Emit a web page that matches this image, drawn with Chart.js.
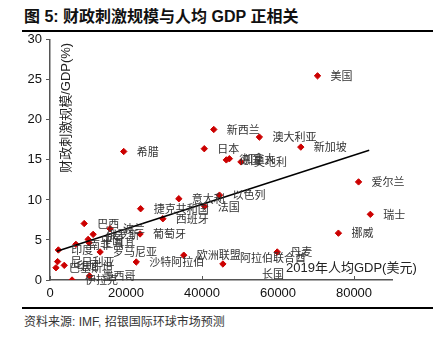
<!DOCTYPE html>
<html>
<head>
<meta charset="utf-8">
<script src="https://cdn.jsdelivr.net/npm/chart.js@4.4.0/dist/chart.umd.min.js"></script>
<style>
  body { margin: 0; background: #fff; width: 433px; height: 344px; position: relative; overflow: hidden;
         font-family: "Liberation Sans", "Noto Sans CJK SC", sans-serif; }
  .title { position: absolute; left: 24px; top: 3px; font-size: 16px; font-weight: bold; color: #111; }
  .rule { position: absolute; left: 22px; right: 0; height: 2px; background: #000; }
  .source { position: absolute; left: 24px; top: 312px; font-size: 12px; color: #333; }
  #wrap { position: absolute; left: 0; top: 28px; width: 433px; height: 278px; }
</style>
</head>
<body>
<div class="title">图 5: 财政刺激规模与人均 GDP 正相关</div>
<div class="rule" style="top:30px"></div>
<div id="wrap"><canvas id="myChart"></canvas></div>
<div class="rule" style="top:307px"></div>
<div class="source">资料来源: IMF, 招银国际环球市场预测</div>
<script>
// 2019 GDP per capita (USD) vs fiscal stimulus (% of GDP)
const countries = ["美国", "新西兰", "澳大利亚", "日本", "新加坡", "希腊", "德国", "加拿大", "奥地利",
    "爱尔兰", "瑞士", "挪威", "丹麦", "阿拉伯联合酋\n长国", "欧洲联盟", "沙特阿拉伯", "意大利", "以色列",
    "法国", "西班牙", "捷克共和国", "巴西", "波兰", "葡萄牙", "俄罗斯", "中国", "土耳其", "南非",
    "罗马尼亚", "印度", "尼日利亚", "巴基斯坦", "印尼", "伊拉克", "墨西哥"];
const gdpPerCapita = [70400, 43100, 55100, 40600, 66000, 19400, 46400, 47200, 50250,
    81200, 84300, 75900, 59800, 45500, 35200, 22700, 33900, 44600,
    40700, 29700, 23850, 9000, 15800, 23700, 11350, 10040, 10300, 6820,
    13190, 2200, 2000, 1570, 3750, 5800, 10400];
const stimulus = [25.5, 18.8, 17.85, 16.4, 16.6, 16.05, 15.0, 15.15, 14.75,
    12.25, 8.2, 5.85, 3.5, 2.0, 3.1, 2.25, 10.15, 10.6,
    9.2, 7.65, 8.9, 7.05, 6.4, 5.75, 5.7, 5.07, 4.65, 4.45,
    3.5, 3.75, 2.3, 1.53, 1.83, 0.0, 0.5];

// linear fit line
const trendX = [1800, 84000];
const trendY = [3.6, 16.2];

const xTicks = [0, 20000, 40000, 60000, 80000];
const yTicks = [0, 5, 10, 15, 20, 25, 30];

const points = gdpPerCapita.map((g, i) => ({ x: g, y: stimulus[i] }));
const trend = trendX.map((t, i) => ({ x: t, y: trendY[i] }));

const cjk = '"Noto Sans CJK SC", sans-serif';

// labels beside each point, axis titles and inward x ticks
const annotate = {
    id: 'annotate',
    afterDatasetsDraw(chart) {
        const ctx = chart.ctx;
        const meta = chart.getDatasetMeta(1);
        ctx.save();
        ctx.fillStyle = '#333';
        ctx.font = '11px ' + cjk;
        ctx.textBaseline = 'middle';
        meta.data.forEach((el, i) => {
            const lines = countries[i].split('\n');
            if (lines.length === 1) {
                ctx.textAlign = 'left';
                ctx.fillText(lines[0], el.x + 13, el.y);
            } else {
                ctx.textAlign = 'center';
                const w = ctx.measureText(lines[0]).width;
                lines.forEach((ln, k) => ctx.fillText(ln, el.x + 17 + w / 2, el.y - 6 + k * 16));
            }
        });

        const xs = chart.scales.x, ys = chart.scales.y;
        ctx.strokeStyle = '#555';
        ctx.lineWidth = 1;
        xTicks.forEach(v => {
            const px = Math.round(xs.getPixelForValue(v)) + 0.5;
            ctx.beginPath();
            ctx.moveTo(px, ys.bottom);
            ctx.lineTo(px, ys.bottom - 4);
            ctx.stroke();
        });

        ctx.fillStyle = '#222';
        ctx.font = '13px "Liberation Sans", ' + cjk;
        ctx.textAlign = 'left';
        ctx.fillText('2019年人均GDP(美元)', 286, ys.bottom - 12);

        ctx.font = '13px "Liberation Sans", ' + cjk;
        ctx.translate(xs.left + 16, ys.top + 68);
        ctx.rotate(-Math.PI / 2);
        ctx.textAlign = 'center';
        ctx.fillText('财政刺激规模/GDP(%)', 0, 0);
        ctx.restore();
    }
};

new Chart(document.getElementById('myChart'), {
    type: 'scatter',
    data: {
        datasets: [{
            type: 'line',
            data: trend,
            borderColor: '#000',
            borderWidth: 1.5,
            pointRadius: 0,
            fill: false
        }, {
            data: points,
            backgroundColor: '#cc0000',
            borderColor: '#cc0000',
            pointStyle: 'rectRot',
            pointRadius: 3.2
        }]
    },
    options: {
        responsive: true,
        maintainAspectRatio: false,
        animation: false,
        layout: { padding: { top: 2, right: 41, left: 0, bottom: 0 } },
        plugins: { legend: { display: false }, tooltip: { enabled: false } },
        scales: {
            x: {
                type: 'linear',
                min: 0,
                max: 90000,
                afterBuildTicks: s => { s.ticks = xTicks.map(v => ({ value: v })); },
                afterFit: s => { s.height = 26; },
                grid: { display: false, drawTicks: false },
                border: { display: true, color: '#555', width: 1.5 },
                ticks: { color: '#111', padding: 6, font: { size: 13, family: 'Liberation Sans' },
                         callback: v => String(v) }
            },
            y: {
                min: 0,
                max: 30,
                afterBuildTicks: s => { s.ticks = yTicks.map(v => ({ value: v })); },
                afterFit: s => { s.width = 50; },
                grid: { drawOnChartArea: false, drawTicks: true, tickLength: 4, color: '#555' },
                border: { display: true, color: '#555', width: 1.5 },
                ticks: { color: '#111', padding: 4, font: { size: 13, family: 'Liberation Sans' } }
            }
        }
    },
    plugins: [annotate]
});
</script>
</body>
</html>
